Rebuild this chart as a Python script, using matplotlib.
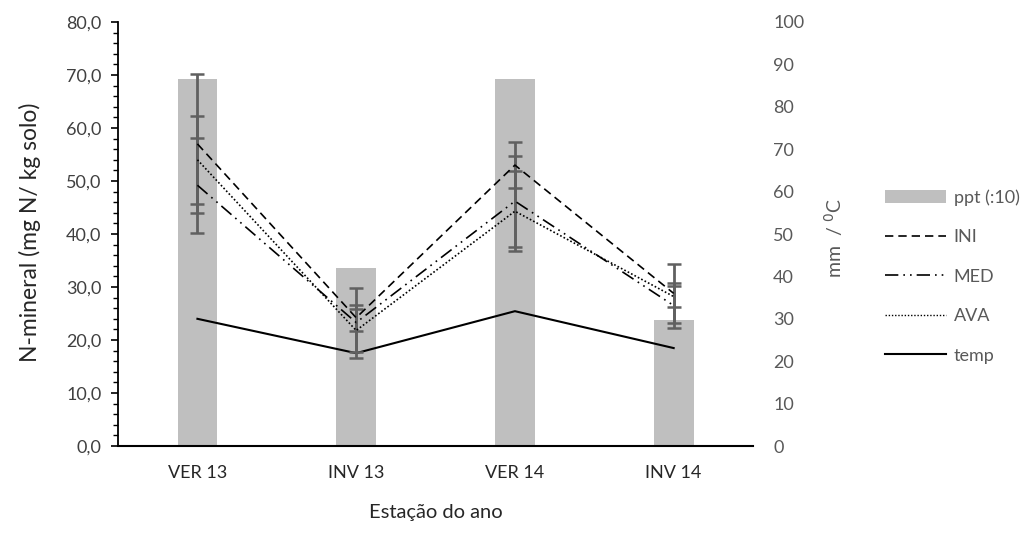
import matplotlib
matplotlib.use("Agg")
import matplotlib.pyplot as plt
from matplotlib.lines import Line2D
from matplotlib.patches import Patch
import numpy as np

plt.rcParams['font.family'] = ['Lato', 'DejaVu Sans']

categories = ["VER 13", "INV 13", "VER 14", "INV 14"]
ppt = [86.6, 42.0, 86.6, 29.8]          # mm/10, right axis
temp = [30.0, 21.9, 31.8, 23.1]          # degC, right axis
ini = [57.0, 24.2, 53.0, 28.8]
ini_err = [13.1, 2.5, 4.4, 5.6]
med = [49.2, 23.3, 46.2, 26.5]
med_err = [9.0, 6.6, 8.6, 4.3]
ava = [54.0, 21.8, 44.3, 28.2]
ava_err = [8.3, 4.0, 7.5, 1.9]

gray_txt = '#595959'
fig = plt.figure(figsize=(10.31, 5.39), dpi=100)
ax = fig.add_axes([0.1145, 0.1725, 0.6159, 0.7867])
ax2 = ax.twinx()
ax.set_zorder(2)
ax.patch.set_visible(False)

x = np.arange(len(categories))
ax2.bar(x, ppt, width=0.25, color='#BFBFBF', zorder=1)
ax2.plot(x, temp, color='black', lw=1.5, zorder=3)
ax2.set_ylim(0, 100)
ax2.set_yticks(np.arange(0, 101, 10))
ax2.tick_params(axis='y', length=0, pad=14.5, labelsize=13, labelcolor=gray_txt)
for s in ax2.spines.values():
    s.set_visible(False)
ax2.set_ylabel("mm  / $^0$C", fontsize=14, color=gray_txt)
ax2.yaxis.set_label_coords(1.108, 0.49)

ecol = '#606060'
ekw = dict(ecolor=ecol, elinewidth=2, capsize=5, capthick=1.8, zorder=2)
ax.errorbar(x, ini, yerr=ini_err, fmt='none', **ekw)
ax.errorbar(x, med, yerr=med_err, fmt='none', **ekw)
ax.errorbar(x, ava, yerr=ava_err, fmt='none', **ekw)
l_ini, = ax.plot(x, ini, color='black', lw=1.2, dashes=(5, 3), zorder=4)
l_med, = ax.plot(x, med, color='black', lw=1.2, dashes=(8, 3, 1, 3, 1, 3), zorder=4)
l_ava, = ax.plot(x, ava, color='black', lw=1.2, dashes=(1, 1.3), zorder=4)

ax.set_xlim(-0.5, 3.5)
ax.set_ylim(0, 80)
ax.set_yticks(np.arange(0, 81, 10))
ax.set_yticks(np.arange(0, 81, 2), minor=True)
ax.set_yticklabels([f"{v:.1f}".replace('.', ',') for v in np.arange(0, 81, 10)])
ax.tick_params(axis='y', which='major', length=5, width=1.2, direction='out', labelsize=13, labelcolor='#404040', pad=7)
ax.tick_params(axis='y', which='minor', length=3.5, width=1.0, direction='out')
ax.set_xticks(x)
ax.set_xticklabels(categories)
ax.tick_params(axis='x', length=0, pad=14, labelsize=13, labelcolor='#262626')
ax.spines['top'].set_visible(False)
ax.spines['right'].set_visible(False)
ax.spines['left'].set_linewidth(1.3)
ax.spines['bottom'].set_linewidth(1.5)
ax.set_ylabel("N-mineral (mg N/ kg solo)", fontsize=16.5, color='#262626')
ax.yaxis.set_label_coords(-0.122, 0.505)
ax.set_xlabel("Estação do ano", fontsize=14.5, labelpad=16, color='#262626')

handles = [Patch(facecolor='#BFBFBF', edgecolor='none'),
           Line2D([], [], color='black', lw=1.2, dashes=(5, 3)),
           Line2D([], [], color='black', lw=1.2, dashes=(8, 3, 1, 3, 1, 3)),
           Line2D([], [], color='black', lw=1.0, dashes=(1, 1.3)),
           Line2D([], [], color='black', lw=1.5)]
labels = ["ppt (:10)", "INI", "MED", "AVA", "temp"]
leg = fig.legend(handles, labels, loc='upper left', bbox_to_anchor=(0.843, 0.679),
                 frameon=False, fontsize=13, handlelength=3.33, handleheight=0.7,
                 labelspacing=1.3, handletextpad=0.45, labelcolor=gray_txt)

fig.savefig("out.png", dpi=100)
